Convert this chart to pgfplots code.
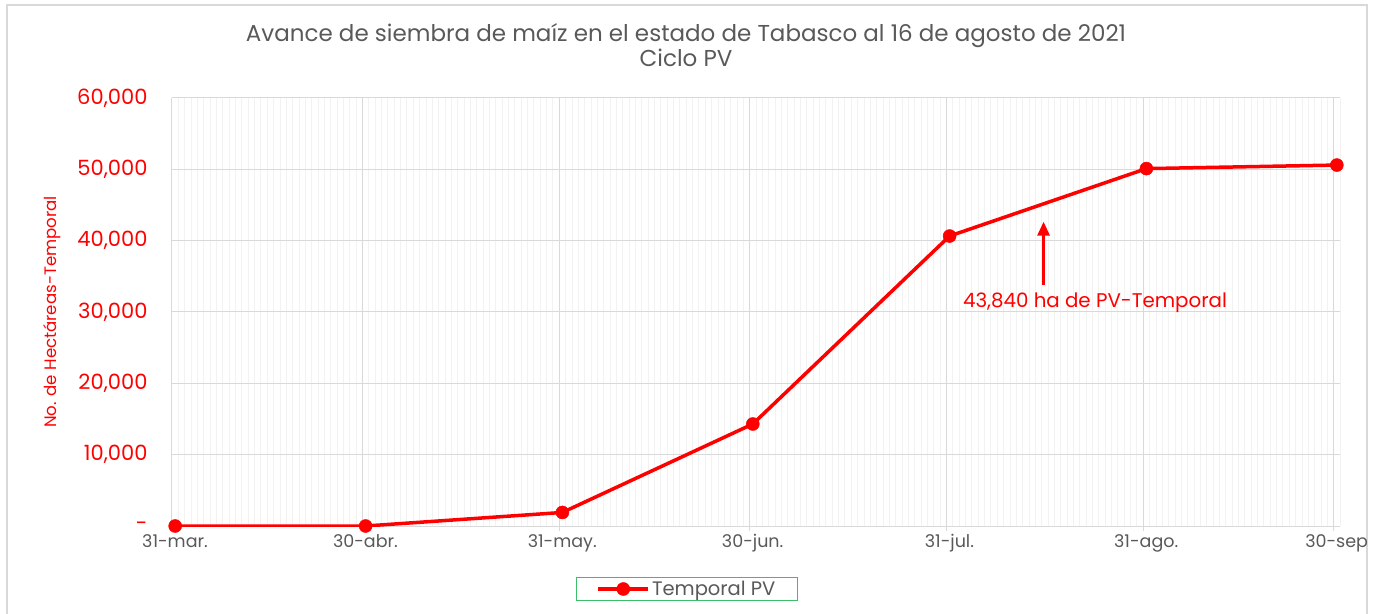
\documentclass[border=0pt]{standalone}
\usepackage{fontspec}
\setmainfont{Poppins}
\usepackage{pgfplots}
\pgfplotsset{compat=1.18}
\usetikzlibrary{arrows.meta}
\definecolor{tred}{HTML}{FF0000}
\definecolor{tgray}{HTML}{595959}
\definecolor{gridmaj}{HTML}{D9D9D9}
\definecolor{gridmin}{HTML}{F2F2F2}
\definecolor{lgreen}{HTML}{3DBE6A}
\begin{document}
\begin{tikzpicture}
\useasboundingbox (-172bp,-88bp) rectangle (1204bp,526bp);
\draw[gridmaj, line width=2bp] (-165bp,-100bp) rectangle (1195bp,521bp);
\begin{axis}[
  scale only axis, width=1168bp, height=428bp,
  xmin=0, xmax=184, ymin=0, ymax=60000,
  scaled y ticks=false,
  axis x line*=bottom, axis y line*=left,
  axis line style={-, draw=gridmaj, line width=1bp},
  xtick={0,30,61,91,122,153,183},
  xticklabels={31-mar.,30-abr.,31-may.,30-jun.,31-jul.,31-ago.,30-sep},
  minor xtick={1,...,184},
  ytick={0,10000,20000,30000,40000,50000,60000},
  yticklabels={{-\hspace{20bp}},{10,000},{20,000},{30,000},{40,000},{50,000},{60,000}},
  grid=both,
  major grid style={draw=gridmaj, line width=1bp},
  minor grid style={draw=gridmin, line width=0.8bp},
  tick align=outside, major tick length=5bp, minor tick length=0pt,
  xtick style={draw=gridmaj, line width=1bp},
  ytick style={draw=none},
  xticklabel style={font=\fontsize{17.5bp}{20bp}\selectfont, text=tgray, xshift=3bp},
  yticklabel style={font=\fontsize{21bp}{22bp}\selectfont, text=tred, xshift=-16bp},
  ylabel={No. de Hectáreas-Temporal},
  ylabel style={at={(axis description cs:-0.1027,0.5)}, anchor=center, font=\fontsize{16.6bp}{18bp}\selectfont, text=tred},
  title={Avance de siembra de maíz en el estado de Tabasco al 16 de agosto de 2021\\Ciclo PV},
  title style={at={(axis description cs:0.4401,1.1086)}, anchor=center, align=center, font=\fontsize{23bp}{25bp}\selectfont, text=tgray},
  legend style={at={(axis description cs:0.4409,-0.1472)}, anchor=center, draw=lgreen, line width=1bp, font=\fontsize{19.5bp}{21bp}\selectfont, text=tgray, inner xsep=20bp, inner ysep=2bp},
  legend image code/.code={\draw[mark repeat=2,mark phase=2,#1] plot coordinates {(0bp,0bp) (25bp,0bp) (50bp,0bp)};},
]
\addplot[tred, line width=3.5bp, mark=*, mark size=6.5bp, mark options={solid, line width=0.5bp}]
  coordinates {(0.5,0) (30.5,0) (61.5,1900) (91.5,14300) (122.5,40650) (153.5,50100) (183.5,50600)};
\addlegendentry{Temporal PV}
\draw[-{Triangle[length=14bp,width=12bp]}, tred, line width=3bp] (axis cs:137.3,33790) -- (axis cs:137.3,42660);
\node[text=tred, font=\fontsize{19.8bp}{21bp}\selectfont] at (axis cs:145.4,31260) {43,840 ha de PV-Temporal};
\end{axis}
\end{tikzpicture}
\end{document}
